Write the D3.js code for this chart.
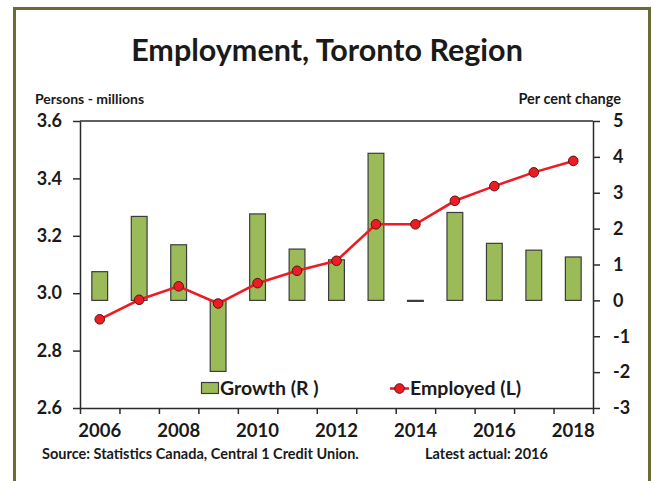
<!DOCTYPE html>
<html>
<head>
<meta charset="utf-8">
<script src="https://cdn.jsdelivr.net/npm/d3@7"></script>
<style>
  html, body { margin: 0; padding: 0; background: #fff; }
  svg { display: block; font-family: Lato, 'Open Sans', sans-serif; font-weight: bold; }
</style>
</head>
<body>
<div id="chart"></div>
<script>
const years = [2006, 2007, 2008, 2009, 2010, 2011, 2012, 2013, 2014, 2015, 2016, 2017, 2018]
const growth = [0.8, 2.34, 1.55, -1.98, 2.41, 1.43, 1.13, 4.1, 0.0, 2.45, 1.59, 1.4, 1.21]
const employed = [2.909, 2.977, 3.024, 2.964, 3.035, 3.078, 3.113, 3.24, 3.24, 3.322, 3.373, 3.421, 3.461]
const leftTicks = [2.6, 2.8, 3.0, 3.2, 3.4, 3.6]
const rightTicks = [-3, -2, -1, 0, 1, 2, 3, 4, 5]
const yearLabels = [2006, 2008, 2010, 2012, 2014, 2016, 2018]

const W = 653, H = 481
const plot = { left: 80, right: 593, top: 121, bottom: 408 }
const TEXT = '#1a1a1a'
const AXIS = '#2b2b2b'

const svg = d3.select('#chart').append('svg')
  .attr('width', W)
  .attr('height', H)

// olive frame
svg.append('rect')
  .attr('x', 14.5).attr('y', 8.5)
  .attr('width', 635).attr('height', 490)
  .attr('fill', 'none')
  .attr('stroke', '#6b6b34')
  .attr('stroke-width', 3)

svg.append('text')
  .attr('x', 327).attr('y', 61)
  .attr('text-anchor', 'middle')
  .attr('font-size', '30.5px')
  .attr('fill', TEXT)
  .text('Employment, Toronto Region')

svg.append('text')
  .attr('x', 35).attr('y', 104)
  .attr('font-size', '14px')
  .attr('fill', TEXT)
  .text('Persons - millions')

svg.append('text')
  .attr('x', 621).attr('y', 104)
  .attr('text-anchor', 'end')
  .attr('font-size', '14.5px')
  .attr('fill', TEXT)
  .text('Per cent change')

const x = d3.scaleBand()
  .domain(years)
  .range([plot.left, plot.right])
  .paddingInner(0.6)
  .paddingOuter(0.3)

// boundary scale for the category tick marks
const xEdge = d3.scaleLinear()
  .domain([0, years.length])
  .range([plot.left, plot.right])

const yL = d3.scaleLinear().domain([2.6, 3.6]).range([plot.bottom, plot.top])
const yR = d3.scaleLinear().domain([-3, 5]).range([plot.bottom, plot.top])

// plot frame (top line closes the box)
svg.append('line')
  .attr('x1', plot.left).attr('x2', plot.right)
  .attr('y1', plot.top).attr('y2', plot.top)
  .attr('stroke', AXIS).attr('stroke-width', 1.5)

function styleAxis(g) {
  g.select('.domain').attr('stroke', AXIS).attr('stroke-width', 1.5)
  g.selectAll('.tick line').attr('stroke', AXIS).attr('stroke-width', 1.5)
  g.selectAll('.tick text').attr('fill', TEXT).attr('font-size', '18px')
    .attr('font-family', 'Lato, sans-serif').attr('font-weight', 'bold')
}

svg.append('g')
  .attr('transform', `translate(${plot.left},0)`)
  .call(d3.axisLeft(yL).tickValues(leftTicks).tickFormat(d3.format('.1f')).tickSize(7).tickSizeOuter(0).tickPadding(11))
  .call(styleAxis)

svg.append('g')
  .attr('transform', `translate(${plot.right},0)`)
  .call(d3.axisRight(yR).tickValues(rightTicks).tickFormat(d => String(d)).tickSize(7).tickSizeOuter(0).tickPadding(13))
  .call(styleAxis)

svg.append('g')
  .attr('transform', `translate(0,${plot.bottom})`)
  .call(d3.axisBottom(xEdge).ticks(years.length).tickFormat('').tickSize(6).tickSizeOuter(0))
  .call(styleAxis)

svg.append('g').selectAll('text')
  .data(yearLabels)
  .enter()
  .append('text')
  .attr('x', d => x(d) + x.bandwidth() / 2)
  .attr('y', plot.bottom + 29)
  .attr('text-anchor', 'middle')
  .attr('font-size', '18.5px')
  .attr('fill', TEXT)
  .text(d => d)

// growth bars (right axis)
svg.append('g').selectAll('rect')
  .data(years.map((yr, i) => ({ yr, v: growth[i] })))
  .enter()
  .append('rect')
  .attr('x', d => x(d.yr))
  .attr('width', x.bandwidth())
  .attr('y', d => Math.min(yR(d.v), yR(0)))
  .attr('height', d => Math.max(Math.abs(yR(d.v) - yR(0)), 1))
  .attr('fill', '#9bbb59')
  .attr('stroke', '#3c3c3c')
  .attr('stroke-width', 1.2)

// employment line (left axis)
const pts = years.map((yr, i) => ({ yr, v: employed[i] }))
const line = d3.line()
  .x(d => x(d.yr) + x.bandwidth() / 2)
  .y(d => yL(d.v))

svg.append('path')
  .datum(pts)
  .attr('d', line)
  .attr('fill', 'none')
  .attr('stroke', '#ed1c24')
  .attr('stroke-width', 2.6)

svg.append('g').selectAll('circle')
  .data(pts)
  .enter()
  .append('circle')
  .attr('cx', d => x(d.yr) + x.bandwidth() / 2)
  .attr('cy', d => yL(d.v))
  .attr('r', 4.8)
  .attr('fill', '#ed1c24')
  .attr('stroke', '#5a1515')
  .attr('stroke-width', 1)

// legend
const lg = svg.append('g')
lg.append('rect')
  .attr('x', 201.5).attr('y', 382.5)
  .attr('width', 17).attr('height', 11)
  .attr('fill', '#9bbb59').attr('stroke', '#3c3c3c').attr('stroke-width', 1.2)
lg.append('text')
  .attr('x', 220).attr('y', 395)
  .attr('font-size', '19.5px').attr('fill', TEXT)
  .text('Growth (R )')
lg.append('line')
  .attr('x1', 390).attr('x2', 409).attr('y1', 388.5).attr('y2', 388.5)
  .attr('stroke', '#ed1c24').attr('stroke-width', 2.6)
lg.append('circle')
  .attr('cx', 399.5).attr('cy', 388.5).attr('r', 4.8)
  .attr('fill', '#ed1c24').attr('stroke', '#5a1515').attr('stroke-width', 1)
lg.append('text')
  .attr('x', 410).attr('y', 395)
  .attr('font-size', '19.5px').attr('fill', TEXT)
  .text('Employed (L)')

svg.append('text')
  .attr('x', 42).attr('y', 459)
  .attr('font-size', '14.5px').attr('fill', TEXT)
  .text('Source: Statistics Canada, Central 1 Credit Union.')

svg.append('text')
  .attr('x', 425).attr('y', 459)
  .attr('font-size', '14.5px').attr('fill', TEXT)
  .text('Latest actual: 2016')
</script>
</body>
</html>
